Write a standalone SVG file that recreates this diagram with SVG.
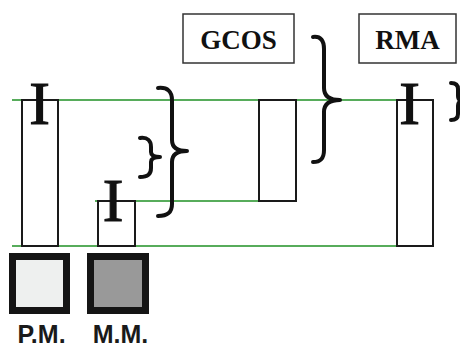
<svg xmlns="http://www.w3.org/2000/svg" width="460" height="347" viewBox="0 0 460 347">
<style>
.bar{fill:none;stroke:#1a1a1a;stroke-width:2}
.gl{stroke:#1f9025;stroke-width:1.5}
.br{fill:none;stroke:#111;stroke-width:4;stroke-linecap:round;stroke-linejoin:round}
.ib{font-family:"Liberation Serif",serif;font-size:62px;fill:#111;stroke:#111;stroke-width:1.2;text-anchor:middle}
.lb{font-family:"Liberation Serif",serif;font-weight:bold;font-size:27px;fill:#111;text-anchor:middle}
.box{fill:#fff;stroke:#333;stroke-width:1.5}
.lg{stroke:#151515;stroke-width:7}
.lt{font-family:"Liberation Sans",sans-serif;font-weight:bold;font-size:25px;fill:#1a1a1a;text-anchor:middle}
</style>
<rect width="460" height="347" fill="#fff"/>
<g id="connectors">
<line class="gl" x1="12" y1="100" x2="397" y2="100"/>
<line class="gl" x1="95" y1="201" x2="259" y2="201"/>
<line class="gl" x1="12" y1="246" x2="397" y2="246"/>
</g>
<g id="bar-pm">
<rect class="bar" x="22" y="100" width="36" height="146"/>
<text class="ib" x="39.5" y="124">I</text>
</g>
<g id="bar-mm">
<rect class="bar" x="98" y="201" width="37" height="45"/>
<text class="ib" x="113" y="221">I</text>
</g>
<g id="bar-gcos">
<rect class="bar" x="259" y="100" width="37" height="101"/>
</g>
<g id="bar-rma">
<rect class="bar" x="397" y="100" width="36" height="146"/>
<text class="ib" x="409.5" y="124">I</text>
</g>
<g id="brace-small">
<path class="br" d="M140,138 C148,137 151,141 151,147 L151,152 C151,155 154,157 160,157 C154,157 151,159 151,162 L151,168 C151,174 148,177 140,177"/>
</g>
<g id="brace-big">
<path class="br" d="M158,88 C168,87 172,92 172,100 L172,140 C172,147 177,151 187,151 C177,151 172,155 172,162 L172,204 C172,212 168,216 158,216"/>
</g>
<g id="brace-gcos">
<path class="br" d="M313,37 C321,36 324,41 324,49 L324,88 C324,96 329,100 340,100 C329,100 324,104 324,112 L324,150 C324,158 321,162 313,162"/>
</g>
<g id="brace-rma">
<path class="br" d="M451,83 C456,83 458,85 458,89 L458,96 C458,99 460,101 464,101 C460,101 458,103 458,106 L458,114 C458,118 456,120 451,120"/>
</g>
<g id="gcos">
<rect class="box" x="183" y="14" width="111" height="49"/>
<text class="lb" x="238.5" y="49">GCOS</text>
</g>
<g id="rma">
<rect class="box" x="359" y="14" width="97" height="49"/>
<text class="lb" x="407.5" y="49">RMA</text>
</g>
<g id="legend-pm">
<rect class="lg" x="12.5" y="256.5" width="54" height="54" fill="#eef0ef"/>
<text class="lt" x="41.5" y="343">P.M.</text>
</g>
<g id="legend-mm">
<rect class="lg" x="90.5" y="256.5" width="55" height="54" fill="#999999"/>
<text class="lt" x="120.5" y="343">M.M.</text>
</g>
</svg>
